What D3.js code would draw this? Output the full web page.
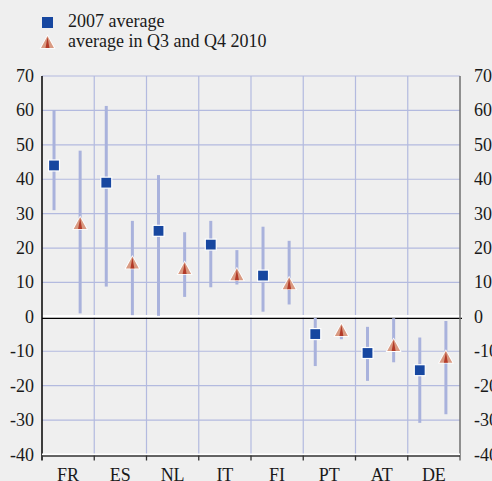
<!DOCTYPE html>
<html>
<head>
<meta charset="utf-8">
<script src="https://cdn.jsdelivr.net/npm/d3@7"></script>
<style>
  html, body { margin: 0; padding: 0; background: #efefef; }
  svg { display: block; }
  text { font-family: "Liberation Serif", "Times New Roman", serif; fill: #1a1a1a; }
</style>
</head>
<body>
<svg id="chart" width="492" height="481"></svg>
<script>
const categories = ["FR", "ES", "NL", "IT", "FI", "PT", "AT", "DE"];
// 2007 average (square) with its range
const avg2007 = [44, 39, 25, 21, 12, -5, -10.5, -15.5];
const avg2007Low = [31, 8.8, 0.3, 8.6, 1.5, -14.3, -18.6, -30.8];
const avg2007High = [60.1, 61.3, 41.2, 27.9, 26.2, -0.3, -2.9, -6];
// average in Q3 and Q4 2010 (triangle) with its range
const avg2010 = [27.3, 15.8, 14.2, 12.4, 9.8, -3.8, -8.2, -11.6];
const avg2010Low = [1, 0.5, 5.8, 9.4, 3.6, -6.5, -13.2, -28.3];
const avg2010High = [48.3, 27.9, 24.6, 19.4, 22.1, -3, -0.4, -1.2];
const yTicks = [70, 60, 50, 40, 30, 20, 10, 0, -10, -20, -30, -40];
const legendLabels = ["2007 average", "average in Q3 and Q4 2010"];

(function () {
const svg = d3.select("#chart");
const pL = 42, pR = 460, pT = 76, pB = 454.5;
const gridColor = "#b3badf", rangeColor = "#a9b2dc", blue = "#1747a0";

const x = d3.scaleBand().domain(categories).range([pL, pR]).padding(0);
const y = d3.scaleLinear().domain([-40, 70]).range([pB, pT]);
const bw = x.bandwidth();
const xSq = c => x(c) + bw * 0.23;
const xTr = c => x(c) + bw * 0.73;

// horizontal gridlines
svg.append("g").selectAll("line").data(yTicks.filter(d => d !== 0 && d !== -40)).join("line")
  .attr("x1", pL).attr("x2", pR)
  .attr("y1", d => y(d)).attr("y2", d => y(d))
  .attr("stroke", gridColor).attr("stroke-width", 1.2);

// vertical gridlines at category boundaries
svg.append("g").selectAll("line").data(categories.slice(1)).join("line")
  .attr("x1", d => x(d)).attr("x2", d => x(d))
  .attr("y1", pT).attr("y2", pB)
  .attr("stroke", gridColor).attr("stroke-width", 1.2);

// zero line
svg.append("line").attr("x1", pL).attr("x2", pR + 2)
  .attr("y1", y(0) - 0.5).attr("y2", y(0) - 0.5)
  .attr("stroke", "#ffffff").attr("stroke-width", 2.5);
svg.append("line").attr("x1", pL).attr("x2", pR + 2)
  .attr("y1", y(0) + 1.5).attr("y2", y(0) + 1.5)
  .attr("stroke", "#000").attr("stroke-width", 1.3);

// range lines
const idx = d3.range(categories.length);
svg.append("g").selectAll("line").data(idx).join("line")
  .attr("x1", i => xSq(categories[i])).attr("x2", i => xSq(categories[i]))
  .attr("y1", i => y(avg2007High[i])).attr("y2", i => y(avg2007Low[i]))
  .attr("stroke", rangeColor).attr("stroke-width", 3);
svg.append("g").selectAll("line").data(idx).join("line")
  .attr("x1", i => xTr(categories[i])).attr("x2", i => xTr(categories[i]))
  .attr("y1", i => y(avg2010High[i])).attr("y2", i => y(avg2010Low[i]))
  .attr("stroke", rangeColor).attr("stroke-width", 3);

// left axis
svg.append("line").attr("x1", pL).attr("x2", pL).attr("y1", pT).attr("y2", pB + 6)
  .attr("stroke", "#000").attr("stroke-width", 1.5);
// right axis
svg.append("line").attr("x1", pR).attr("x2", pR).attr("y1", pT).attr("y2", pB + 6)
  .attr("stroke", "#6f6f6f").attr("stroke-width", 1.5);
// bottom axis
svg.append("line").attr("x1", pL).attr("x2", pR).attr("y1", pB).attr("y2", pB)
  .attr("stroke", "#ffffff").attr("stroke-width", 2);
svg.append("line").attr("x1", pL).attr("x2", pR).attr("y1", pB + 1.5).attr("y2", pB + 1.5)
  .attr("stroke", "#333").attr("stroke-width", 1.3);
svg.append("g").selectAll("line").data(categories.slice(1)).join("line")
  .attr("x1", d => x(d)).attr("x2", d => x(d))
  .attr("y1", pB + 1).attr("y2", pB + 6)
  .attr("stroke", "#333").attr("stroke-width", 1.3);

// y tick labels
svg.append("g").selectAll("text").data(yTicks).join("text")
  .attr("x", 34).attr("y", d => y(d) + 6)
  .attr("text-anchor", "end").attr("font-size", 18).text(d => d);
svg.append("g").selectAll("text").data(yTicks).join("text")
  .attr("x", 474).attr("y", d => y(d) + 6)
  .attr("text-anchor", "start").attr("font-size", 18).text(d => d);

// x labels
svg.append("g").selectAll("text").data(categories).join("text")
  .attr("x", d => x(d) + bw / 2).attr("y", 481)
  .attr("text-anchor", "middle").attr("font-size", 18).text(d => d);

// markers
function triangle(g, cx, cy) {
  const s = 13, h = 12;
  g.append("path")
    .attr("d", `M${cx},${cy - h / 2 - 1.5} L${cx + s / 2 + 1.5},${cy + h / 2 + 0.8} L${cx - s / 2 - 1.5},${cy + h / 2 + 0.8} Z`)
    .attr("fill", "#ffffff");
  g.append("path")
    .attr("d", `M${cx},${cy - h / 2} L${cx + s / 2},${cy + h / 2} L${cx - s / 2},${cy + h / 2} Z`)
    .attr("fill", "#d99a82");
  g.append("path")
    .attr("d", `M${cx},${cy - h / 2 + 1} L${cx + 2},${cy + h / 2} L${cx - 2},${cy + h / 2} Z`)
    .attr("fill", "#b23a28");
}
const sq = 11;
svg.append("g").selectAll("rect").data(idx).join("rect")
  .attr("x", i => xSq(categories[i]) - sq / 2).attr("y", i => y(avg2007[i]) - sq / 2)
  .attr("width", sq).attr("height", sq)
  .attr("fill", blue).attr("stroke", "#ffffff").attr("stroke-width", 1.2);
const tg = svg.append("g");
idx.forEach(i => triangle(tg, xTr(categories[i]), y(avg2010[i])));

// legend
svg.append("rect").attr("x", 42).attr("y", 17).attr("width", 11).attr("height", 11).attr("fill", blue);
triangle(svg.append("g"), 47.5, 42);
svg.append("text").attr("x", 68).attr("y", 27).attr("font-size", 18).text(legendLabels[0]);
svg.append("text").attr("x", 68).attr("y", 47).attr("font-size", 18).text(legendLabels[1]);
})();
</script>
</body>
</html>
